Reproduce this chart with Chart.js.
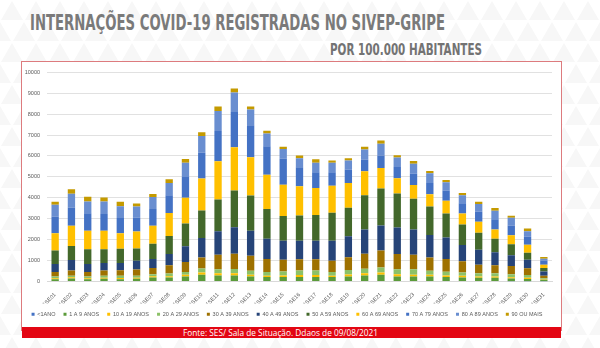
<!DOCTYPE html>
<html>
<head>
<meta charset="utf-8">
<script src="https://cdn.jsdelivr.net/npm/chart.js@4.4.1/dist/chart.umd.min.js"></script>
<style>
  html, body { margin: 0; padding: 0; }
  body {
    width: 600px; height: 348px; position: relative; overflow: hidden;
    background: #fff url("data:image/svg+xml,%3Csvg xmlns='http://www.w3.org/2000/svg' width='24' height='42'%3E%3Cg fill='%23f7f7f7'%3E%3Cpath d='M12 1 L23 20 L1 20Z'/%3E%3Cpath d='M0 22 L11 41 L-11 41Z'/%3E%3Cpath d='M24 22 L35 41 L13 41Z'/%3E%3C/g%3E%3C/svg%3E");
  }
  #heading { position: absolute; left: 0; top: 0; }
  #box {
    position: absolute; left: 21px; top: 61px; width: 539px; height: 268px;
    border: 1.5px solid #dd7b7e; background: #fff;
  }
  #chart { position: absolute; left: 0; top: 0; }
  #footer { position: absolute; left: 0; top: 327px; }
</style>
</head>
<body>
<svg id="heading" width="600" height="60">
  <text x="30" y="30" textLength="415" lengthAdjust="spacingAndGlyphs"
        font-family="Liberation Sans Narrow, DejaVu Sans Condensed, Liberation Sans"
        font-weight="bold" font-size="20.5" fill="#7a7a7a">INTERNAÇÕES COVID-19 REGISTRADAS NO SIVEP-GRIPE</text>
  <text x="330" y="55" textLength="152" lengthAdjust="spacingAndGlyphs"
        font-family="Liberation Sans Narrow, DejaVu Sans Condensed, Liberation Sans"
        font-weight="bold" font-size="16.5" fill="#737373">POR 100.000 HABITANTES</text>
</svg>
<div id="box">
  <canvas id="chart" width="539" height="265"></canvas>
</div>
<svg id="footer" width="600" height="12">
  <rect x="22" y="0" width="539" height="11" fill="#e30613"/>
  <text x="183" y="9" textLength="195" lengthAdjust="spacingAndGlyphs"
        font-family="Open Sans, Liberation Sans" font-size="8.5" fill="#ffffff">Fonte: SES/ Sala de Situação. Ddaos de 09/08/2021</text>
</svg>
<script>
// semanas epidemiologicas
const weeks = ['2021SE01','2021SE02','2021SE03','2021SE04','2021SE05','2021SE06','2021SE07','2021SE08',
  '2021SE09','2021SE10','2021SE11','2021SE12','2021SE13','2021SE14','2021SE15','2021SE16',
  '2021SE17','2021SE18','2021SE19','2021SE20','2021SE21','2021SE22','2021SE23','2021SE24',
  '2021SE25','2021SE26','2021SE27','2021SE28','2021SE29','2021SE30','2021SE31'];

// internacoes por faixa etaria (por 100.000 hab.)
const menos1  = [20,20,20,20,20,20,20,20,20,20,20,20,20,20,20,20,20,20,20,20,20,20,20,20,20,20,20,20,15,15,10];
const de1a9   = [90,120,90,110,90,110,170,170,220,300,270,270,220,190,190,190,190,190,220,270,300,220,220,220,190,170,160,160,130,110,70];
const de10a19 = [50,60,50,50,60,50,60,60,80,110,110,100,80,60,80,100,100,60,100,110,110,110,80,80,80,80,60,60,60,60,30];
const de20a29 = [80,80,80,100,100,100,100,130,130,190,190,210,190,190,190,210,210,190,210,210,240,240,270,190,180,160,160,160,140,130,50];
const de30a39 = [220,240,220,240,270,290,300,400,480,530,690,730,720,610,560,540,540,530,610,720,810,730,690,640,610,540,400,380,400,320,110];
const de40a49 = [380,510,380,370,350,420,430,540,750,930,1120,1260,1200,970,910,890,890,960,1000,1150,1200,1260,1200,1070,1020,780,720,620,510,400,210];
const de50a59 = [640,670,700,650,670,590,730,860,1090,1310,1520,1760,1680,1420,1180,1210,1230,1340,1370,1640,1760,1630,1480,1360,1150,970,810,640,530,340,160];
const de60a69 = [830,960,890,880,750,810,860,1090,1230,1530,1830,2070,1830,1640,1500,1390,1290,1290,1180,1150,990,730,650,590,610,530,530,450,430,380,160];
const de70a79 = [800,880,830,810,720,670,800,850,990,1230,1440,1680,1530,1360,1240,910,750,640,640,560,590,530,540,540,490,490,480,490,460,380,190];
const de80a89 = [560,650,570,590,570,530,570,590,690,800,960,930,750,620,460,430,460,460,430,480,560,460,480,460,400,380,370,400,370,270,100];
const mais90  = [140,220,220,190,210,140,140,180,180,180,220,190,140,130,110,130,160,100,110,130,160,100,130,110,100,110,100,130,100,130,80];

const labels = ['<1ANO','1 A 9 ANOS','10 A 19 ANOS','20 A 29 ANOS','30 A 39 ANOS','40 A 49 ANOS',
  '50 A 59 ANOS','60 A 69 ANOS','70 A 79 ANOS','80 A 89 ANOS','90 OU MAIS'];
const values = [menos1, de1a9, de10a19, de20a29, de30a39, de40a49, de50a59, de60a69, de70a79, de80a89, mais90];
const colors = ['#4472C4','#5B9B3A','#FFC000','#8CC168','#9E7100','#264478','#43682B','#FFC000','#4472C4','#698ED0','#C49A00'];

const ctx = document.getElementById('chart').getContext('2d');
const chart = new Chart(ctx, {
  type: 'bar',
  data: {
    labels: weeks,
    datasets: labels.map((lab, i) => ({
      label: lab,
      data: values[i],
      backgroundColor: colors[i],
      barPercentage: 0.5,
      categoryPercentage: 0.9
    }))
  },
  options: {
    responsive: false,
    animation: false,
    devicePixelRatio: 1,
    layout: { padding: { top: 6, right: 9, left: 0, bottom: 0 } },
    plugins: {
      legend: {
        position: 'bottom',
        labels: {
          boxWidth: 3, boxHeight: 3, padding: 8,
          color: '#595959',
          font: { size: 5.5, family: 'Liberation Sans' }
        }
      },
      tooltip: { enabled: false }
    },
    scales: {
      x: {
        stacked: true,
        grid: { display: false },
        border: { display: true, color: '#d9d9d9' },
        ticks: {
          minRotation: 45, maxRotation: 45, autoSkip: false, padding: 2,
          color: '#595959',
          font: { size: 5.5, family: 'Liberation Sans' }
        },
        afterFit: s => { s.height = 22; }
      },
      y: {
        stacked: true,
        min: 0, max: 10000,
        grid: { color: '#d9d9d9', lineWidth: 0.8, drawTicks: false },
        border: { display: false },
        ticks: {
          stepSize: 1000, padding: 7,
          color: '#595959',
          font: { size: 5.5, family: 'Liberation Sans' },
          callback: v => String(v)
        },
        afterFit: s => { s.width = 25; }
      }
    }
  }
});
</script>
</body>
</html>
